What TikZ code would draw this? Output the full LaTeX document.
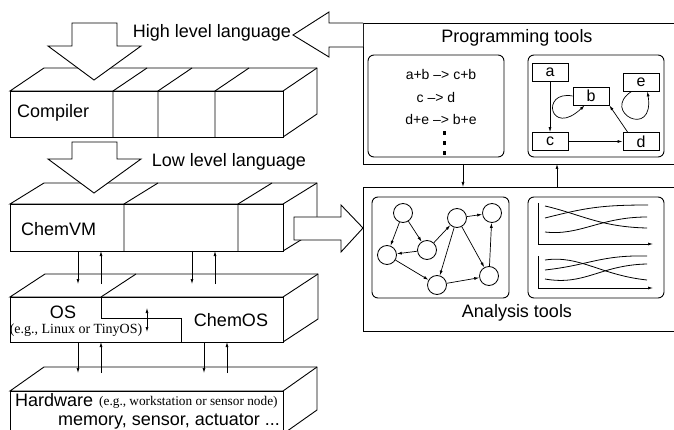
\documentclass[tikz,border=0pt]{standalone}
\usepackage{fontspec}
\setmainfont{Liberation Sans}
\newfontfamily\timesfont{Liberation Serif}
\usetikzlibrary{arrows.meta}
\tikzset{
  ln/.style={line width=0.9pt},
  big/.style={ln, fill=white},
  sm/.style={-{Latex[length=5pt,width=3pt]}, line width=0.7pt},
  smb/.style={{Latex[length=5pt,width=3pt]}-{Latex[length=5pt,width=3pt]}, line width=0.7pt},
  lbl/.style={font=\fontsize{18}{20}\selectfont, inner sep=0pt},
  tlbl/.style={font=\timesfont\fontsize{14}{16}\selectfont, inner sep=0pt},
  rlbl/.style={font=\fontsize{14}{16}\selectfont, inner sep=0pt},
  rbox/.style={ln, rounded corners=6pt},
  sbox/.style={draw, line width=0.8pt, minimum width=36pt, minimum height=18pt, inner sep=0pt, font=\fontsize{16}{16}\selectfont},
  circ/.style={draw, circle, line width=0.8pt, minimum size=19pt, inner sep=0pt},
  crv/.style={line width=0.8pt},
}
\newcommand{\blockthreed}[6]{% x1,y1,x2,y2,dx,dy
  \draw[big] (#1,#2) -- (#1+#5,#2+#6) -- (#3+#5,#2+#6) -- (#3+#5,#4+#6) -- (#3,#4) -- (#3,#2) -- cycle;
  \draw[big] (#1,#2) rectangle (#3,#4);
  \draw[ln] (#3,#2) -- (#3+#5,#2+#6);
}
\begin{document}
\begin{tikzpicture}[x=1pt,y=-1pt]
\useasboundingbox (0,0) rectangle (674,430);
\clip (0,0) rectangle (674,430);
% ---------- Compiler block
\blockthreed{10}{91}{283}{137}{34}{-23}
\foreach \d in {113,158,215} \draw[ln] (\d,137) -- (\d,91) -- (\d+34,68);
\node[lbl, anchor=west] (compiler) at (17,113) {Compiler};
% ---------- ChemVM block
\blockthreed{10}{204}{283}{251}{34}{-21}
\foreach \d in {124,238} \draw[ln] (\d,251) -- (\d,204) -- (\d+34,183);
\node[lbl, anchor=west] (chemvm) at (21,229) {ChemVM};
% ---------- OS / ChemOS block
\blockthreed{10}{297}{283}{342}{35}{-23}
\draw[ln] (101,297) -- (136,274);
\draw[ln] (101,297) -- (101,318) -- (181,318) -- (181,342);
\node[lbl] (os) at (63,312) {OS};
\node[tlbl] (osex) at (76,330) {(e.g., Linux or TinyOS)};
\node[lbl] (chemos) at (231,320) {ChemOS};
\coordinate (osa) at (147,308); \coordinate (osb) at (147,332);
\draw[smb] (osa) -- (osb);
% ---------- Hardware block
\blockthreed{10}{391}{283}{434}{34}{-24}
\node[lbl, anchor=base west] (hw) at (15,406.5) {Hardware};
\node[tlbl, anchor=base west, font=\timesfont\fontsize{13.3}{15}\selectfont] (hwex) at (99,405.5) {(e.g., workstation or sensor node)};
\node[lbl, anchor=base west] (hwmem) at (58,425) {memory, sensor, actuator ...};
% ---------- arrows between layers
\foreach \x/\t/\b in {78/251/284, 192/251/284, 78/342/373, 204/342/373}
  \draw[sm] (\x,\t) -- (\x,\b);
\foreach \x/\t/\b in {101/251/284, 215/251/284, 101/342/373, 227/342/373}
  \draw[sm] (\x,\b) -- (\x,\t);
% ---------- big arrows
\draw[big] (72,23) -- (117,23) -- (117,46) -- (141,46) -- (94,80) -- (48,46) -- (72,46) -- cycle;
\draw[big] (72,142) -- (117,142) -- (117,159) -- (141,159) -- (94,193) -- (48,159) -- (72,159) -- cycle;
\node[lbl] (hll) at (212,33) {High level language};
\node[lbl] (lll) at (229,162) {Low level language};
% ---------- Programming tools box
\draw[ln] (363,23) rectangle (700,164);
\draw[big] (363,23) -- (329,23) -- (329,12) -- (293,35) -- (329,57) -- (329,47) -- (363,47);
\node[lbl] (prog) at (517,38) {Programming tools};
\draw[rbox] (368,55) rectangle (504,157);
\node[rlbl] (r1) at (441,74) {a+b –> c+b};
\node[rlbl] (r2) at (436,97) {c –> d};
\node[rlbl] (r3) at (441,119) {d+e –> b+e};
\foreach \y in {133,143,153} \fill (442.5,\y-1.8) rectangle (445.5,\y+1.8);
\draw[rbox] (528,55) rectangle (664,157);
\node[sbox] (a) at (550,72.5) {a};
\node[sbox] (b) at (591,96) {b};
\node[sbox] (e) at (641,82) {e};
\node[sbox] (c) at (550,141.5) {c};
\node[sbox] (d) at (641,141.5) {d};
\draw[sm] (a) -- (c);
\draw[sm] (c) -- (d);
\draw[sm] ([xshift=5pt]d.north west) -- (b.south east);
\draw[sm] (b.west) .. controls (540,90) and (550,138) .. ([xshift=12pt]b.south west);
\draw[sm] ([xshift=9pt]e.south west) .. controls (600,112) and (655,140) .. ([xshift=-12pt]e.south east);
% ---------- between tool boxes
\coordinate (pb1) at (463,164); \coordinate (ab1) at (463,187);
\coordinate (pb2) at (557,164); \coordinate (ab2) at (557,187);
\draw[sm] (pb1) -- (ab1);
\draw[sm] (ab2) -- (pb2);
% ---------- Analysis tools box
\draw[ln] (363,187) rectangle (700,331);
\draw[big] (294,217) -- (341,217) -- (341,205) -- (363,228) -- (341,252) -- (341,240) -- (294,240) -- cycle;
\node[lbl] (ana) at (517,313) {Analysis tools};
\draw[rbox] (372,197) rectangle (509,298);
\node[circ] (n1) at (403,213) {};
\node[circ] (n2) at (387,255) {};
\node[circ] (n3) at (427,250) {};
\node[circ] (n4) at (457,218) {};
\node[circ] (n5) at (492,213) {};
\node[circ] (n6) at (437,285) {};
\node[circ] (n7) at (489,276) {};
\foreach \s/\t in {n1/n2, n1/n3, n3/n2, n3/n4, n4/n5, n4/n6, n4/n7, n2/n6, n6/n7, n7/n5}
  \draw[sm] (\s) -- (\t);
\draw[rbox] (528,197) rectangle (664,298);
\coordinate (o1) at (538,244); \coordinate (t1) at (538,203); \coordinate (r1e) at (653,244);
\draw[crv] (t1) -- (o1);
\draw[sm] (o1) -- (r1e);
\draw[crv] (545,206) .. controls (580,214) and (600,227) .. (647,228);
\draw[crv] (545,218) .. controls (585,208) and (600,205) .. (648,205);
\draw[crv] (545,232) .. controls (580,236) and (600,217) .. (647,217);
\coordinate (o2) at (538,288); \coordinate (t2) at (538,256); \coordinate (r2e) at (653,288);
\draw[crv] (t2) -- (o2);
\draw[sm] (o2) -- (r2e);
\draw[crv] (545,260) .. controls (580,255) and (600,275) .. (647,280);
\draw[crv] (545,270) .. controls (590,265) and (600,255) .. (647,256);
\draw[crv] (545,279) .. controls (585,286) and (600,265) .. (647,264);
\end{tikzpicture}
\end{document}
